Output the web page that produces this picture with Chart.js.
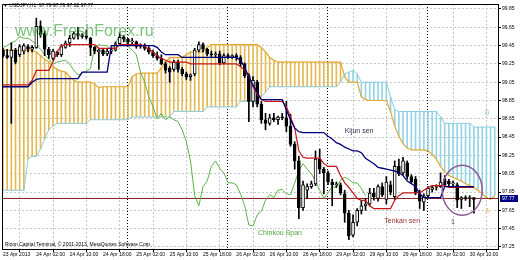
<!DOCTYPE html>
<html>
<head>
<meta charset="utf-8">
<script src="https://cdn.jsdelivr.net/npm/chart.js@4.4.0/dist/chart.umd.min.js"></script>
<style>
  html, body { margin: 0; padding: 0; background: #fff; }
</style>
</head>
<body>
<canvas id="chart" width="520" height="260"></canvas>
<script>
// USDJPY H1, bar 0 = 23 Apr 2013 18:00
const xTickBars = [0, 8, 16, 24, 32, 40, 48, 56, 64, 72, 80, 88, 96, 104, 112];
const xTickLabels = ['23 Apr 2013', '24 Apr 02:00', '24 Apr 10:00', '24 Apr 18:00', '25 Apr 02:00',
  '25 Apr 10:00', '25 Apr 18:00', '26 Apr 02:00', '26 Apr 10:00', '26 Apr 18:00', '29 Apr 02:00',
  '29 Apr 10:00', '29 Apr 18:00', '30 Apr 02:00', '30 Apr 10:00'];
const yTicks = [97.25, 97.45, 97.65, 97.85, 98.05, 98.25, 98.45, 98.65, 98.85, 99.05, 99.25, 99.45, 99.65, 99.85];
const daySeparators = [30, 54, 78, 102];
const priceLine = 97.78;

const opens = [
  99.40, 99.34, 99.32, 99.40, 99.35, 99.39, 99.44, 99.41, 99.43, 99.66,
  99.58, 99.41, 99.31, 99.38, 99.35, 99.43, 99.48, 99.53, 99.58, 99.56,
  99.55, 99.53, 99.43, 99.38, 99.40, 99.36, 99.39, 99.40, 99.47, 99.54,
  99.52, 99.49, 99.49, 99.44, 99.45, 99.42, 99.38, 99.34, 99.31, 99.25,
  99.20, 99.19, 99.27, 99.19, 99.14, 99.11, 99.14, 99.40, 99.46, 99.41,
  99.36, 99.35, 99.36, 99.26, 99.34, 99.33, 99.34, 99.32, 99.25, 99.12,
  98.84, 99.05, 98.81, 98.64, 98.60, 98.66, 98.64, 98.67, 98.66, 98.57,
  98.37, 98.19, 97.68, 97.87, 97.91, 97.94, 98.21, 98.10, 98.06, 97.96,
  97.93, 97.93, 97.83, 97.62, 97.38, 97.52, 97.65, 97.70, 97.72, 97.84,
  97.78, 97.91, 97.77, 97.93, 97.80, 98.13, 98.06, 98.17, 98.02, 97.99,
  97.83, 97.74, 97.81, 97.88, 97.90, 97.91, 97.99, 97.97, 97.94, 97.93,
  97.77, 97.79, 97.78, 97.79
];
const highs = [
  99.42, 99.41, 99.48, 99.42, 99.46, 99.47, 99.46, 99.45, 99.75, 99.72,
  99.61, 99.43, 99.41, 99.39, 99.46, 99.50, 99.56, 99.60, 99.65, 99.58,
  99.62, 99.54, 99.44, 99.41, 99.42, 99.41, 99.41, 99.49, 99.59, 99.56,
  99.53, 99.53, 99.50, 99.47, 99.47, 99.44, 99.40, 99.38, 99.35, 99.27,
  99.22, 99.29, 99.29, 99.21, 99.16, 99.14, 99.42, 99.49, 99.48, 99.42,
  99.39, 99.38, 99.39, 99.36, 99.36, 99.35, 99.36, 99.34, 99.26, 99.14,
  99.11, 99.07, 98.84, 98.71, 98.70, 98.71, 98.68, 98.71, 98.84, 98.70,
  98.40, 98.24, 97.97, 97.94, 97.97, 98.30, 98.32, 98.12, 98.08, 97.99,
  97.96, 97.95, 97.87, 97.65, 97.60, 97.67, 97.76, 97.78, 97.89, 97.89,
  97.93, 97.95, 98.02, 97.97, 98.19, 98.21, 98.23, 98.19, 98.04, 98.02,
  97.87, 97.83, 97.91, 97.92, 97.93, 98.06, 98.03, 97.99, 97.97, 97.95,
  97.80, 97.81, 97.81, 97.79
];
const lows = [
  99.32, 99.31, 98.60, 99.25, 99.33, 99.36, 99.38, 99.38, 99.42, 99.54,
  99.34, 99.31, 99.29, 99.33, 99.33, 99.42, 99.44, 99.52, 99.52, 99.53,
  99.52, 99.34, 99.36, 99.19, 99.34, 99.34, 99.36, 99.39, 99.45, 99.49,
  99.47, 99.46, 99.42, 99.42, 99.40, 99.36, 99.32, 99.29, 99.24, 99.15,
  99.05, 99.17, 99.16, 99.12, 99.08, 99.07, 99.12, 99.38, 99.38, 99.34,
  99.33, 99.32, 99.24, 99.25, 99.31, 99.31, 99.29, 99.22, 99.10, 98.62,
  98.78, 98.78, 98.60, 98.53, 98.58, 98.62, 98.59, 98.64, 98.51, 98.35,
  98.10, 97.56, 97.65, 97.78, 97.89, 97.92, 98.05, 97.83, 97.93, 97.70,
  97.90, 97.82, 97.52, 97.33, 97.36, 97.48, 97.61, 97.65, 97.70, 97.76,
  97.75, 97.80, 97.72, 97.82, 97.77, 98.03, 98.04, 97.99, 97.94, 97.82,
  97.67, 97.65, 97.79, 97.85, 97.87, 97.90, 97.91, 97.92, 97.91, 97.68,
  97.67, 97.76, 97.69, 97.62
];
const closes = [
  99.34, 99.32, 99.40, 99.27, 99.44, 99.45, 99.41, 99.43, 99.66, 99.57,
  99.41, 99.35, 99.39, 99.35, 99.44, 99.48, 99.53, 99.58, 99.56, 99.55,
  99.54, 99.43, 99.39, 99.40, 99.36, 99.39, 99.40, 99.47, 99.54, 99.52,
  99.49, 99.50, 99.44, 99.45, 99.42, 99.38, 99.34, 99.31, 99.25, 99.18,
  99.16, 99.27, 99.19, 99.14, 99.11, 99.13, 99.40, 99.46, 99.41, 99.36,
  99.35, 99.36, 99.26, 99.34, 99.33, 99.34, 99.32, 99.25, 99.12, 98.84,
  99.07, 98.81, 98.64, 98.60, 98.66, 98.64, 98.67, 98.66, 98.57, 98.37,
  98.19, 97.68, 97.93, 97.91, 97.94, 98.21, 98.10, 98.06, 97.96, 97.93,
  97.94, 97.84, 97.62, 97.37, 97.52, 97.65, 97.70, 97.72, 97.84, 97.80,
  97.91, 97.82, 97.96, 97.85, 98.13, 98.05, 98.19, 98.02, 97.96, 97.84,
  97.75, 97.81, 97.89, 97.90, 97.91, 97.96, 97.93, 97.94, 97.95, 97.76,
  97.79, 97.78, 97.79, 97.77
];

const tenkan = [
  99.02, 99.02, 99.02, 99.02, 99.02, 99.02, 99.02, 99.07, 99.18, 99.18,
  99.18, 99.18, 99.27, 99.38, 99.45, 99.46, 99.46, 99.46, 99.46, 99.46,
  99.46, 99.46, 99.46, 99.42, 99.42, 99.42, 99.42, 99.42, 99.46, 99.46,
  99.46, 99.46, 99.46, 99.46, 99.44, 99.41, 99.38, 99.34, 99.31, 99.29,
  99.27, 99.27, 99.27, 99.27, 99.27, 99.25, 99.25, 99.25, 99.25, 99.25,
  99.25, 99.25, 99.25, 99.25, 99.25, 99.25, 99.25, 99.22, 99.18, 99.11,
  99.00, 98.92, 98.86, 98.84, 98.84, 98.84, 98.84, 98.84, 98.78, 98.67,
  98.55, 98.30, 98.23, 98.22, 98.22, 98.22, 98.22, 98.16, 98.13, 98.13,
  98.13, 98.03, 97.95, 97.90, 97.84, 97.78, 97.76, 97.76, 97.70, 97.67,
  97.67, 97.67, 97.67, 97.67, 97.76, 97.81, 97.84, 97.84, 97.84, 97.84,
  97.84, 97.87, 97.90, 97.92, 97.92, 97.92, 97.92, 97.90, 97.90, 97.90,
  97.90, 97.90, 97.90, 97.90
];
const kijun = [
  99.00, 99.00, 99.00, 99.00, 99.00, 99.00, 99.00, 99.05, 99.08, 99.09,
  99.09, 99.09, 99.09, 99.09, 99.09, 99.09, 99.09, 99.09, 99.09, 99.16,
  99.16, 99.16, 99.16, 99.16, 99.16, 99.16, 99.45, 99.45, 99.45, 99.45,
  99.45, 99.45, 99.45, 99.45, 99.45, 99.45, 99.45, 99.43, 99.38, 99.35,
  99.35, 99.35, 99.35, 99.32, 99.32, 99.32, 99.32, 99.32, 99.32, 99.32,
  99.32, 99.32, 99.32, 99.32, 99.32, 99.32, 99.32, 99.29, 99.21, 99.11,
  99.02, 98.94, 98.86, 98.86, 98.86, 98.86, 98.86, 98.86, 98.75, 98.64,
  98.55, 98.51, 98.50, 98.50, 98.50, 98.50, 98.50, 98.50, 98.46, 98.43,
  98.39, 98.37, 98.34, 98.32, 98.30, 98.30, 98.28, 98.22, 98.19, 98.16,
  98.12, 98.11, 98.10, 98.09, 98.08, 98.06, 98.03, 97.97, 97.94, 97.91,
  97.83, 97.79, 97.79, 97.79, 97.79, 97.79, 97.91, 97.91, 97.91, 97.91,
  97.91, 97.91, 97.91, 97.91
];
const spanA = [
  99.40, 99.40, 99.40, 99.40, 99.40, 99.40, 99.40, 99.40, 99.38, 99.34,
  99.30, 99.27, 99.22, 99.19, 99.17, 99.16, 99.11, 99.07, 99.05, 99.05,
  99.05, 99.05, 99.03, 98.99, 99.00, 99.00, 99.00, 99.00, 99.00, 99.00,
  99.00, 99.11, 99.14, 99.15, 99.15, 99.15, 99.15, 99.15, 99.21, 99.27,
  99.32, 99.32, 99.32, 99.32, 99.35, 99.38, 99.38, 99.38, 99.38, 99.43,
  99.46, 99.46, 99.46, 99.46, 99.46, 99.46, 99.46, 99.46, 99.46, 99.46,
  99.46, 99.46, 99.43, 99.38, 99.32, 99.29, 99.27, 99.27, 99.27, 99.27,
  99.27, 99.27, 99.27, 99.27, 99.27, 99.27, 99.27, 99.27, 99.27, 99.27,
  99.27, 99.27, 99.11, 99.05, 99.05, 99.05, 98.89, 98.86, 98.85, 98.85,
  98.85, 98.85, 98.85, 98.73, 98.57, 98.46, 98.38, 98.33, 98.31, 98.31,
  98.31, 98.31, 98.30, 98.26, 98.21, 98.13, 98.07, 98.03, 98.01, 97.99,
  97.97, 97.94, 97.92, 97.90, 97.87, 97.83, 97.79, 97.77, 97.81
];
const spanB = [
  97.87, 97.87, 97.87, 97.87, 97.87, 97.87, 98.21, 98.24, 98.24, 98.32,
  98.43, 98.53, 98.57, 98.60, 98.60, 98.60, 98.60, 98.60, 98.60, 98.60,
  98.60, 98.64, 98.64, 98.64, 98.64, 98.64, 98.64, 98.64, 98.64, 98.64,
  98.64, 98.67, 98.67, 98.67, 98.67, 98.67, 98.67, 98.67, 98.67, 98.67,
  98.67, 98.73, 98.73, 98.73, 98.73, 98.73, 98.73, 98.73, 98.73, 98.78,
  98.78, 98.78, 98.78, 98.78, 98.78, 98.78, 98.78, 98.84, 98.84, 98.84,
  98.84, 98.84, 98.89, 98.94, 99.00, 99.00, 99.00, 99.00, 99.00, 99.00,
  99.00, 99.00, 99.00, 99.00, 99.00, 99.00, 99.00, 99.00, 99.00, 99.00,
  99.00, 99.05, 99.14, 99.16, 99.18, 99.14, 99.05, 99.05, 99.05, 99.05,
  99.05, 99.05, 99.05, 98.89, 98.75, 98.73, 98.73, 98.73, 98.73, 98.73,
  98.73, 98.73, 98.73, 98.73, 98.73, 98.67, 98.60, 98.60, 98.60, 98.60,
  98.60, 98.60, 98.60, 98.56, 98.56, 98.56, 98.56, 98.56, 98.56
];
const chinkou = [
  99.43, 99.45, 99.48, 99.50, 99.55, 99.53, 99.53, 99.50, 99.46, 99.41,
  99.35, 99.30, 99.25, 99.27, 99.28, 99.29, 99.25, 99.18, 99.13, 99.15,
  99.17, 99.20, 99.43, 99.46, 99.45, 99.45, 99.40, 99.48, 99.56, 99.55,
  99.44, 99.40, 99.35, 99.16, 99.05, 98.89, 98.78, 98.65, 98.71, 98.64,
  98.67, 98.64, 98.62, 98.53, 98.40, 98.19, 97.81, 97.70, 97.91, 97.97,
  98.13, 98.19, 98.11, 98.06, 97.95, 97.95, 97.93, 97.83, 97.70, 97.49,
  97.48, 97.60, 97.64, 97.76, 97.82, 97.79, 97.87, 97.88, 97.83, 97.82,
  97.95, 98.08, 98.16, 98.10, 98.05, 97.97, 97.87, 97.78, 97.84, 97.91,
  97.90, 97.98, 98.01, 97.99, 97.95, 97.95, 97.89, 97.81
];

const X_MIN = -0.24, X_MAX = 118.79;
const tiny = { family: 'Liberation Sans', size: 5 };

const pts = arr => arr.map((v, i) => ({ x: i, y: v }));
const wickData = lows.map((l, i) => ({ x: i, y: [l, highs[i]] }));
const bodyData = opens.map((o, i) => ({ x: i, y: [o, closes[i]] }));
const bodyColors = opens.map((o, i) => closes[i] >= o ? '#ffffff' : '#000000');
const cloudData = spanA.map((a, i) => ({ x: i, y: [a, spanB[i]] }));
const cloudColors = spanA.map((a, i) => a >= spanB[i] ? 'rgb(228,186,85)' : 'rgb(150,212,228)');

const lineDs = (label, data, color, width, order) => ({
  type: 'line', label, data, borderColor: color, borderWidth: width,
  pointRadius: 0, tension: 0, fill: false, order
});

const decorations = {
  id: 'decorations',
  beforeDatasetsDraw(chart) {
    const { ctx, chartArea: a, scales: { x } } = chart;
    ctx.save();
    ctx.strokeStyle = '#000';
    ctx.lineWidth = 1;
    ctx.setLineDash([1, 2]);
    daySeparators.forEach(b => {
      const px = Math.round(x.getPixelForValue(b - 0.25)) + 0.5;
      ctx.beginPath();
      ctx.moveTo(px, a.top);
      ctx.lineTo(px, a.bottom);
      ctx.stroke();
    });
    ctx.restore();
  },
  afterDatasetsDraw(chart) {
    const { ctx, chartArea: a, scales: { x, y } } = chart;
    ctx.save();

    // frame
    ctx.strokeStyle = '#000';
    ctx.lineWidth = 1;
    ctx.beginPath();
    ctx.moveTo(a.left + 0.5, a.bottom);
    ctx.lineTo(a.left + 0.5, a.top + 0.5);
    ctx.lineTo(a.right, a.top + 0.5);
    ctx.stroke();

    // watermark
    ctx.globalAlpha = 0.7;
    ctx.fillStyle = 'rgb(70,170,70)';
    ctx.font = '16px "Liberation Sans"';
    ctx.textBaseline = 'alphabetic';
    ctx.fillText('www.FreshForex.ru', 15, 36);
    ctx.globalAlpha = 1;

    // header and footer
    ctx.fillStyle = '#000';
    ctx.font = '5px "Liberation Sans"';
    ctx.fillText('\u25BC USDJPY,H1  97.79 97.79 97.62 97.77', 3, 7);
    ctx.fillText('Rizon Capital Terminal, \u00A9 2001-2013, MetaQuotes Software Corp.', 5, 246);

    // labels on the lines
    ctx.font = '7px "Liberation Sans"';
    ctx.fillStyle = 'rgb(50,50,80)';
    ctx.fillText('Kijun sen', x.getPixelForValue(82), y.getPixelForValue(98.49));
    ctx.fillStyle = 'rgb(150,50,50)';
    ctx.fillText('Tenkan sen', x.getPixelForValue(91.5), y.getPixelForValue(97.51));
    ctx.fillStyle = 'rgb(80,165,60)';
    ctx.fillText('Chinkou Span', x.getPixelForValue(61.2), y.getPixelForValue(97.38));
    ctx.fillStyle = 'rgb(70,70,70)';
    ctx.fillText('1', x.getPixelForValue(107.5), y.getPixelForValue(97.50));
    ctx.fillStyle = 'rgb(230,200,120)';
    ctx.fillText('A', x.getPixelForValue(115.7), y.getPixelForValue(97.62));
    ctx.fillStyle = 'rgb(120,190,215)';
    ctx.fillText('0', x.getPixelForValue(115.7), y.getPixelForValue(98.69));

    // circled area
    ctx.strokeStyle = 'rgb(140,90,150)';
    ctx.lineWidth = 1.5;
    ctx.beginPath();
    ctx.ellipse(x.getPixelForValue(110.2), y.getPixelForValue(97.87), 20, 25, 0, 0, Math.PI * 2);
    ctx.stroke();

    // price box
    const py = y.getPixelForValue(closes[closes.length - 1]);
    ctx.fillStyle = 'rgb(0,0,128)';
    ctx.fillRect(a.right + 2, Math.round(py) - 4, 18, 7);
    ctx.fillStyle = '#fff';
    ctx.font = '5px "Liberation Sans"';
    ctx.textBaseline = 'middle';
    ctx.fillText(closes[closes.length - 1].toFixed(2), a.right + 4, Math.round(py));
    ctx.restore();
  }
};

new Chart(document.getElementById('chart'), {
  type: 'bar',
  data: {
    datasets: [
      { label: 'Kumo', data: cloudData, backgroundColor: cloudColors, barThickness: 1,
        grouped: false, order: 10 },
      lineDs('Senkou Span A', pts(spanA), 'rgb(225,170,50)', 1.2, 9),
      lineDs('Senkou Span B', pts(spanB), 'rgb(140,205,225)', 1, 9),
      lineDs('Price', [{ x: X_MIN, y: priceLine }, { x: X_MAX, y: priceLine }], 'rgb(130,30,30)', 1, 8),
      lineDs('Chinkou Span', pts(chinkou), 'rgb(90,180,70)', 1, 7),
      { label: 'Wicks', data: wickData, backgroundColor: '#000', barThickness: 1,
        grouped: false, order: 6 },
      { label: 'Bodies', data: bodyData, backgroundColor: bodyColors, borderColor: '#000',
        borderWidth: 1, borderSkipped: false, barThickness: 3, minBarLength: 1,
        grouped: false, order: 5 },
      lineDs('Tenkan sen', pts(tenkan), 'rgb(200,20,20)', 1.2, 3),
      lineDs('Kijun sen', pts(kijun), 'rgb(0,0,120)', 1.3, 2)
    ]
  },
  options: {
    responsive: false,
    animation: false,
    devicePixelRatio: 1,
    events: [],
    layout: { padding: { left: 2, top: 1, right: 0, bottom: 0 } },
    plugins: { legend: { display: false }, tooltip: { enabled: false } },
    scales: {
      x: {
        type: 'linear', min: X_MIN, max: X_MAX, offset: false,
        afterBuildTicks: s => { s.ticks = xTickBars.map(v => ({ value: v })); },
        afterFit: s => { s.height = 11; },
        ticks: { autoSkip: false, maxRotation: 0, align: 'start', padding: 0, font: tiny, color: '#000',
          callback: (v, i) => xTickLabels[i] },
        grid: { color: 'rgb(200,200,200)', tickLength: 3, tickColor: '#000', tickBorderDash: [] },
        border: { display: true, color: '#000', dash: [2, 2] }
      },
      y: {
        position: 'right', min: 97.228, max: 99.904,
        afterBuildTicks: s => { s.ticks = yTicks.map(v => ({ value: v })); },
        afterFit: s => { s.width = 22; },
        ticks: { padding: 1, font: tiny, color: '#000', callback: v => v.toFixed(2) },
        grid: { color: 'rgb(200,200,200)', tickLength: 3, tickColor: '#000', tickBorderDash: [] },
        border: { display: true, color: '#000', dash: [2, 2] }
      }
    }
  },
  plugins: [decorations]
});
</script>
</body>
</html>
